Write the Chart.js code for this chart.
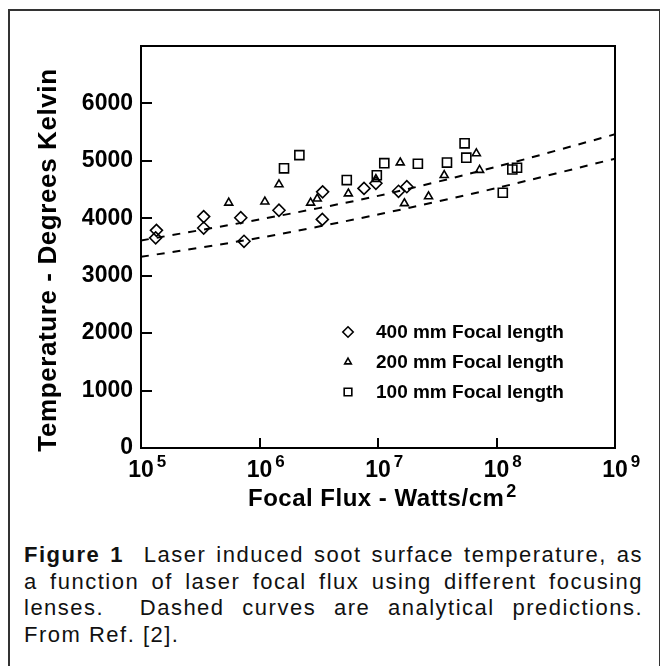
<!DOCTYPE html>
<html>
<head>
<meta charset="utf-8">
<script src="https://cdn.jsdelivr.net/npm/chart.js@4.4.1/dist/chart.umd.min.js"></script>
<style>
  html, body { margin: 0; padding: 0; background: #fff; }
  body { width: 660px; height: 666px; position: relative; overflow: hidden; font-family: "Liberation Sans", Arial, sans-serif; }
  #frame { position: absolute; left: 8px; top: 9px; width: 649px; height: 700px; border: 2px solid #333; }
  #chart { position: absolute; left: 0; top: 0; }
  #caption { position: absolute; left: 24px; top: 542px; width: 619px; font-size: 22px; line-height: 26.7px; letter-spacing: 1.5px; color: #111; }
  #caption span { display: block; }
  #caption .j { text-align: justify; text-align-last: justify; }
</style>
</head>
<body>
<div id="frame"></div>
<canvas id="chart" width="660" height="520"></canvas>
<div id="caption">
  <span class="j"><b>Figure 1</b>&nbsp; Laser induced soot surface temperature, as</span>
  <span class="j">a function of laser focal flux using different focusing</span>
  <span class="j">lenses.&nbsp; Dashed curves are analytical predictions.</span>
  <span>From Ref. [2].</span>
</div>
<script>
const f400X = [1.35e5, 1.33e5, 3.38e5, 3.38e5, 6.95e5, 7.4e5, 1.46e6, 3.41e6, 3.39e6, 7.62e6, 9.6e6, 1.49e7, 1.75e7];
const f400Y = [3790, 3660, 4030, 3830, 4010, 3600, 4140, 4460, 3980, 4520, 4610, 4470, 4550];

const f200X = [5.5e5, 1.11e6, 1.46e6, 2.7e6, 3.07e6, 5.62e6, 9.6e6, 1.54e7, 1.67e7, 2.67e7, 3.62e7, 6.76e7, 7.2e7];
const f200Y = [4270, 4290, 4590, 4270, 4340, 4430, 4680, 4970, 4260, 4380, 4750, 5130, 4840];

const f100X = [1.61e6, 2.17e6, 5.45e6, 9.77e6, 1.13e7, 2.17e7, 3.82e7, 5.38e7, 5.56e7, 1.13e8, 1.36e8, 1.49e8];
const f100Y = [4870, 5100, 4665, 4750, 4960, 4950, 4970, 5305, 5055, 4445, 4850, 4880];

// analytical predictions (dashed)
const curveX = [1e5, 1e6, 1e7, 1e8, 1e9];
const upperY = [3613, 3979, 4390, 4897, 5462];
const lowerY = [3328, 3660, 4066, 4526, 5038];

const xTicks = [1e5, 1e6, 1e7, 1e8, 1e9];
const yTicks = [0, 1000, 2000, 3000, 4000, 5000, 6000];

const seriesLabels = ['400 mm Focal length', '200 mm Focal length', '100 mm Focal length'];

const FONT = '"Liberation Sans", Arial, sans-serif';

function pts(xs, ys) {
  return xs.map((x, i) => ({ x, y: ys[i] }));
}

function drawMarker(ctx, style, x, y, r) {
  ctx.beginPath();
  if (style === 'rectRot') {
    ctx.moveTo(x, y - r);
    ctx.lineTo(x + r, y);
    ctx.lineTo(x, y + r);
    ctx.lineTo(x - r, y);
  } else if (style === 'triangle') {
    ctx.moveTo(x, y - r);
    ctx.lineTo(x + r * 0.866, y + r * 0.5);
    ctx.lineTo(x - r * 0.866, y + r * 0.5);
  } else {
    const s = r * Math.SQRT1_2;
    ctx.rect(x - s, y - s, 2 * s, 2 * s);
  }
  ctx.closePath();
  ctx.stroke();
}

const decorations = {
  id: 'decorations',
  afterDraw(chart) {
    const { ctx, chartArea: a, scales } = chart;
    const xs = scales.x, ys = scales.y;
    ctx.save();
    ctx.strokeStyle = '#000';
    ctx.fillStyle = '#000';

    // frame
    ctx.lineWidth = 2;
    ctx.strokeRect(a.left, a.top, a.right - a.left, a.bottom - a.top);

    // inward ticks
    ctx.beginPath();
    yTicks.forEach((v) => {
      if (v === 0) return;
      const py = Math.round(ys.getPixelForValue(v));
      ctx.moveTo(a.left, py);
      ctx.lineTo(a.left + 11, py);
    });
    xTicks.forEach((v, i) => {
      if (i === 0 || i === xTicks.length - 1) return;
      const px = Math.round(xs.getPixelForValue(v));
      ctx.moveTo(px, a.bottom);
      ctx.lineTo(px, a.bottom - 10);
    });
    ctx.stroke();

    // x tick labels 10^n
    ctx.textBaseline = 'alphabetic';
    xTicks.forEach((v) => {
      const px = xs.getPixelForValue(v);
      ctx.font = 'bold 23px ' + FONT;
      ctx.textAlign = 'center';
      ctx.fillText('10', px, a.bottom + 29);
      const w = ctx.measureText('10').width;
      ctx.font = 'bold 17px ' + FONT;
      ctx.textAlign = 'left';
      ctx.fillText(String(Math.round(Math.log10(v))), px + w / 2 + 3, a.bottom + 19);
    });

    // x title
    ctx.font = 'bold 24px ' + FONT;
    ctx.textAlign = 'left';
    ctx.letterSpacing = '0.5px';
    const xt = 'Focal Flux - Watts/cm';
    ctx.fillText(xt, 248, 506);
    const tw = ctx.measureText(xt).width;
    ctx.letterSpacing = '0px';
    ctx.font = 'bold 18px ' + FONT;
    ctx.fillText('2', 248 + tw + 2, 497);

    // y title
    ctx.save();
    ctx.translate(56, 260);
    ctx.rotate(-Math.PI / 2);
    ctx.font = 'bold 26px ' + FONT;
    ctx.letterSpacing = '0.6px';
    ctx.textAlign = 'center';
    ctx.fillText('Temperature - Degrees Kelvin', 0, 0);
    ctx.restore();

    // legend
    const styles = [['rectRot', 5.2], ['triangle', 3.8], ['rect', 5.4]];
    ctx.lineWidth = 1.6;
    ctx.font = 'bold 19px ' + FONT;
    ctx.textAlign = 'left';
    ctx.textBaseline = 'middle';
    seriesLabels.forEach((lab, i) => {
      const y = 332 + i * 30;
      drawMarker(ctx, styles[i][0], 348, y, styles[i][1]);
      ctx.fillText(lab, 376, y + 1);
    });
    ctx.restore();
  }
};

const pointBase = {
  type: 'scatter',
  backgroundColor: 'rgba(0,0,0,0)',
  borderColor: '#000',
  pointBorderWidth: 1.6,
  pointHoverRadius: 6
};

new Chart(document.getElementById('chart'), {
  type: 'scatter',
  data: {
    datasets: [
      {
        type: 'line', label: 'upper', data: pts(curveX, upperY),
        borderColor: '#000', borderWidth: 2, borderDash: [8, 8],
        pointRadius: 0, tension: 0.3, fill: false
      },
      {
        type: 'line', label: 'lower', data: pts(curveX, lowerY),
        borderColor: '#000', borderWidth: 2, borderDash: [8, 8],
        pointRadius: 0, tension: 0.3, fill: false
      },
      { ...pointBase, label: seriesLabels[0], data: pts(f400X, f400Y), pointStyle: 'rectRot', pointRadius: 6 },
      { ...pointBase, label: seriesLabels[1], data: pts(f200X, f200Y), pointStyle: 'triangle', pointRadius: 4.6 },
      { ...pointBase, label: seriesLabels[2], data: pts(f100X, f100Y), pointStyle: 'rect', pointRadius: 6.4 }
    ]
  },
  options: {
    responsive: false,
    animation: false,
    devicePixelRatio: 1,
    layout: { padding: { left: 0, top: 46, right: 45, bottom: 0 } },
    plugins: { legend: { display: false }, tooltip: { enabled: false } },
    scales: {
      x: {
        type: 'logarithmic',
        min: 1e5,
        max: 1e9,
        ticks: { display: false },
        grid: { display: false, drawTicks: false },
        border: { display: false },
        afterFit: (s) => { s.height = 72; }
      },
      y: {
        type: 'linear',
        min: 0,
        max: 7000,
        afterBuildTicks: (s) => { s.ticks = yTicks.map((v) => ({ value: v })); },
        ticks: {
          color: '#000',
          padding: 8,
          font: { family: FONT, size: 23, weight: 'bold' },
          callback: (v) => String(v)
        },
        grid: { display: false, drawTicks: false },
        border: { display: false },
        afterFit: (s) => { s.width = 141; }
      }
    }
  },
  plugins: [decorations]
});
</script>
</body>
</html>
